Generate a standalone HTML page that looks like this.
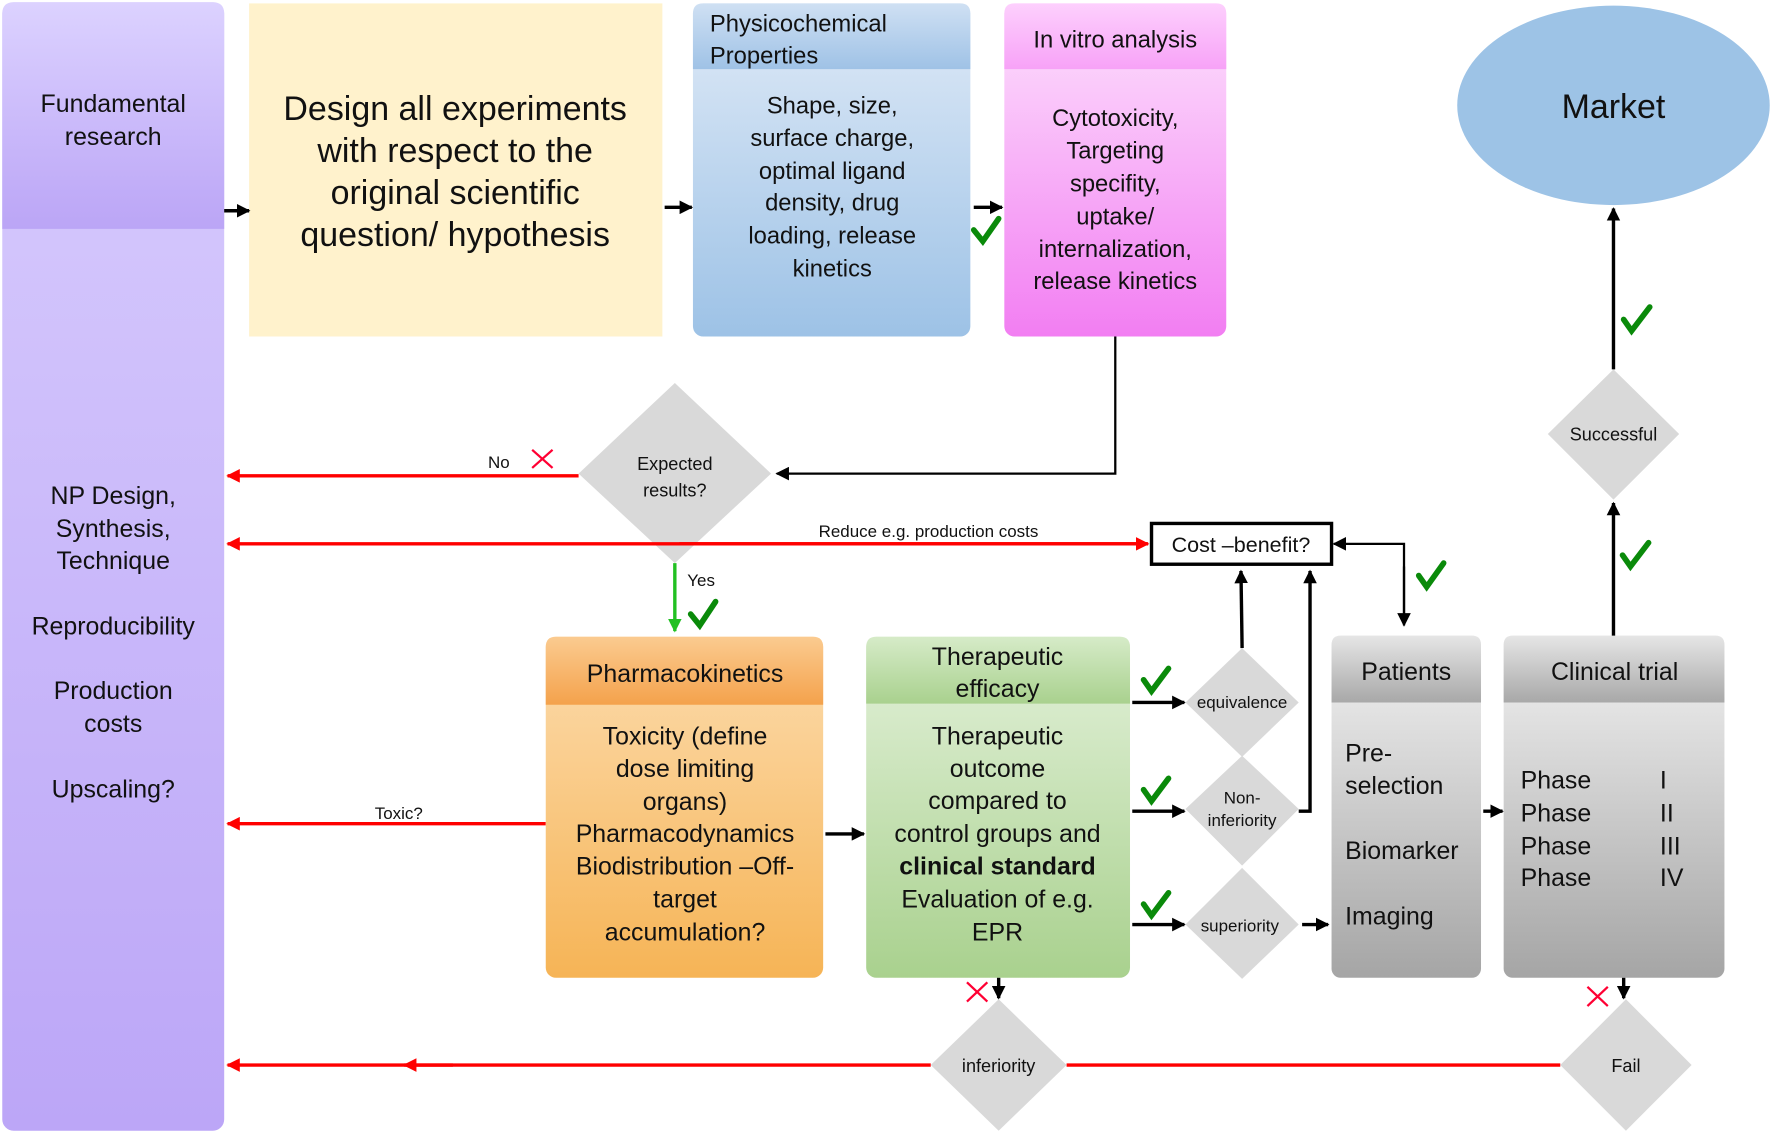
<!DOCTYPE html>
<html><head><meta charset="utf-8"><style>
html,body{margin:0;padding:0;background:#fff}
svg{display:block}
text{font-family:"Liberation Sans",Arial,sans-serif;fill:#111}
</style></head><body>
<svg width="1772" height="1133" viewBox="0 0 1565 1000" preserveAspectRatio="none" xmlns="http://www.w3.org/2000/svg">
<defs>
<linearGradient id="pHead" x1="0" y1="0" x2="0" y2="1"><stop offset="0" stop-color="#dcd2ff"/><stop offset="1" stop-color="#bba5f6"/></linearGradient>
<linearGradient id="pBody" x1="0" y1="0" x2="0" y2="1"><stop offset="0" stop-color="#d8ccfd"/><stop offset="1" stop-color="#bca6f7"/></linearGradient>
<linearGradient id="bHead" x1="0" y1="0" x2="0" y2="1"><stop offset="0" stop-color="#cfe0f3"/><stop offset="1" stop-color="#9fc2e6"/></linearGradient>
<linearGradient id="bBody" x1="0" y1="0" x2="0" y2="1"><stop offset="0" stop-color="#dfeaf7"/><stop offset="1" stop-color="#9dc2e6"/></linearGradient>
<linearGradient id="mHead" x1="0" y1="0" x2="0" y2="1"><stop offset="0" stop-color="#fdd0fd"/><stop offset="1" stop-color="#f7a2f7"/></linearGradient>
<linearGradient id="mBody" x1="0" y1="0" x2="0" y2="1"><stop offset="0" stop-color="#fde2fd"/><stop offset="1" stop-color="#f27ef2"/></linearGradient>
<linearGradient id="oHead" x1="0" y1="0" x2="0" y2="1"><stop offset="0" stop-color="#fbcb90"/><stop offset="1" stop-color="#f4a24c"/></linearGradient>
<linearGradient id="oBody" x1="0" y1="0" x2="0" y2="1"><stop offset="0" stop-color="#fcdcae"/><stop offset="1" stop-color="#f6b456"/></linearGradient>
<linearGradient id="gHead" x1="0" y1="0" x2="0" y2="1"><stop offset="0" stop-color="#d6ebc8"/><stop offset="1" stop-color="#a9d18e"/></linearGradient>
<linearGradient id="gBody" x1="0" y1="0" x2="0" y2="1"><stop offset="0" stop-color="#e3f1da"/><stop offset="1" stop-color="#a9d18e"/></linearGradient>
<linearGradient id="kHead" x1="0" y1="0" x2="0" y2="1"><stop offset="0" stop-color="#e6e6e6"/><stop offset="1" stop-color="#a8a8a8"/></linearGradient>
<linearGradient id="kBody" x1="0" y1="0" x2="0" y2="1"><stop offset="0" stop-color="#f3f3f3"/><stop offset="1" stop-color="#a5a5a5"/></linearGradient>
<marker id="ab" viewBox="0 0 10 10" refX="9" refY="5" markerWidth="4" markerHeight="4" orient="auto"><path d="M0,0 L10,5 L0,10 z" fill="#000"/></marker>
<marker id="abs" viewBox="0 0 10 10" refX="9" refY="5" markerWidth="6" markerHeight="6" orient="auto"><path d="M0,0 L10,5 L0,10 z" fill="#000"/></marker>
<marker id="ar" viewBox="0 0 10 10" refX="9" refY="5" markerWidth="4" markerHeight="4" orient="auto"><path d="M0,0 L10,5 L0,10 z" fill="#f00"/></marker>
<marker id="ag" viewBox="0 0 10 10" refX="9" refY="5" markerWidth="4" markerHeight="4" orient="auto"><path d="M0,0 L10,5 L0,10 z" fill="#22c022"/></marker>
</defs>

<!-- left column -->
<rect x="2" y="2" width="196" height="996" rx="10" fill="url(#pBody)"/>
<path d="M2,202 V12 Q2,2 12,2 H188 Q198,2 198,12 V202 Z" fill="url(#pHead)"/>
<g font-size="22" text-anchor="middle">
<text x="100" y="99">Fundamental</text><text x="100" y="128">research</text>
<text x="100" y="445">NP Design,</text><text x="100" y="474">Synthesis,</text><text x="100" y="502">Technique</text>
<text x="100" y="560">Reproducibility</text>
<text x="100" y="617">Production</text><text x="100" y="646">costs</text>
<text x="100" y="704">Upscaling?</text>
</g>

<!-- yellow -->
<rect x="220" y="3" width="365" height="294" fill="#fff2cc"/>
<g font-size="30" text-anchor="middle">
<text x="402" y="106">Design all experiments</text><text x="402" y="143">with respect to the</text>
<text x="402" y="180">original scientific</text><text x="402" y="217">question/ hypothesis</text>
</g>

<!-- blue -->
<rect x="612" y="3" width="245" height="294" rx="9" fill="url(#bBody)"/>
<path d="M612,61 V12 Q612,3 621,3 H848 Q857,3 857,12 V61 Z" fill="url(#bHead)"/>
<g font-size="21">
<text x="627" y="28">Physicochemical</text><text x="627" y="56">Properties</text>
</g>
<g font-size="21" text-anchor="middle">
<text x="735" y="100">Shape, size,</text><text x="735" y="129">surface charge,</text><text x="735" y="158">optimal ligand</text>
<text x="735" y="186">density, drug</text><text x="735" y="215">loading, release</text><text x="735" y="244">kinetics</text>
</g>

<!-- pink -->
<rect x="887" y="3" width="196" height="294" rx="9" fill="url(#mBody)"/>
<path d="M887,61 V12 Q887,3 896,3 H1074 Q1083,3 1083,12 V61 Z" fill="url(#mHead)"/>
<g font-size="21" text-anchor="middle">
<text x="985" y="42">In vitro analysis</text>
<text x="985" y="111">Cytotoxicity,</text><text x="985" y="140">Targeting</text><text x="985" y="169">specifity,</text>
<text x="985" y="198">uptake/</text><text x="985" y="227">internalization,</text><text x="985" y="255">release kinetics</text>
</g>

<!-- top arrows -->
<g stroke="#000" stroke-width="3" fill="none">
<line x1="198" y1="186" x2="220" y2="186" marker-end="url(#ab)"/>
<line x1="587" y1="183" x2="611" y2="183" marker-end="url(#ab)"/>
<line x1="860" y1="183" x2="885" y2="183" marker-end="url(#ab)"/>
<polyline points="985,297 985,418 686,418" stroke-width="2" marker-end="url(#abs)"/>
</g>

<!-- market -->
<ellipse cx="1425" cy="93" rx="138" ry="88" fill="#9dc3e6"/>
<text x="1425" y="104" font-size="30" text-anchor="middle">Market</text>

<!-- diamonds -->
<g fill="#d9d9d9">
<polygon points="596,338 681,418 596,497 511,418"/>
<polygon points="1425,326 1483,383 1425,441 1367,383"/>
<polygon points="1097,572 1147,620 1097,668 1047,620"/>
<polygon points="1097,667 1147,714 1097,764 1047,714"/>
<polygon points="1097,766 1147,816 1097,864 1047,816"/>
<polygon points="882,882 942,940 882,998 822,940"/>
<polygon points="1436,882 1494,940 1436,998 1378,940"/>
</g>
<g font-size="16" text-anchor="middle">
<text x="596" y="415">Expected</text><text x="596" y="438">results?</text>
<text x="1425" y="389">Successful</text>
<text x="1097" y="625" font-size="15">equivalence</text>
<text x="1097" y="709" font-size="15">Non-</text><text x="1097" y="729" font-size="15">inferiority</text>
<text x="1095" y="822" font-size="15">superiority</text>
<text x="882" y="946">inferiority</text>
<text x="1436" y="946">Fail</text>
</g>

<!-- red lines -->
<g stroke="#f00" stroke-width="3" fill="none">
<line x1="511" y1="420" x2="201" y2="420" marker-end="url(#ar)"/>
<line x1="1013" y1="480" x2="201" y2="480" marker-end="url(#ar)"/>
<line x1="600" y1="480" x2="1014" y2="480" marker-end="url(#ar)"/>
<line x1="482" y1="727" x2="201" y2="727" marker-end="url(#ar)"/>
<line x1="1378" y1="940" x2="942" y2="940"/>
<line x1="822" y1="940" x2="201" y2="940" marker-end="url(#ar)"/>
<line x1="400" y1="940" x2="357" y2="940" marker-end="url(#ar)"/>
</g>
<g font-size="15">
<text x="431" y="413">No</text>
<text x="723" y="474">Reduce e.g. production costs</text>
<text x="331" y="723">Toxic?</text>
<text x="607" y="517">Yes</text>
</g>
<g stroke="#f03" stroke-width="2">
<path d="M470,397 L488,413 M488,397 L470,413"/>
<path d="M854,867 L872,884 M872,867 L854,884"/>
<path d="M1402,871 L1420,888 M1420,871 L1402,888"/>
</g>

<!-- green arrow -->
<line x1="596" y1="497" x2="596" y2="557" stroke="#22c022" stroke-width="3" marker-end="url(#ag)"/>

<!-- cost benefit -->
<rect x="1017" y="462" width="159" height="36" fill="#fff" stroke="#000" stroke-width="3"/>
<text x="1096" y="487" font-size="19" text-anchor="middle">Cost –benefit?</text>

<!-- orange -->
<rect x="482" y="562" width="245" height="301" rx="9" fill="url(#oBody)"/>
<path d="M482,622 V571 Q482,562 491,562 H718 Q727,562 727,571 V622 Z" fill="url(#oHead)"/>
<g font-size="22" text-anchor="middle">
<text x="605" y="602">Pharmacokinetics</text>
<text x="605" y="657">Toxicity (define</text><text x="605" y="686">dose limiting</text><text x="605" y="715">organs)</text>
<text x="605" y="743">Pharmacodynamics</text><text x="605" y="772">Biodistribution –Off-</text>
<text x="605" y="801">target</text><text x="605" y="830">accumulation?</text>
</g>

<!-- green box -->
<rect x="765" y="562" width="233" height="301" rx="9" fill="url(#gBody)"/>
<path d="M765,621 V571 Q765,562 774,562 H989 Q998,562 998,571 V621 Z" fill="url(#gHead)"/>
<g font-size="22" text-anchor="middle">
<text x="881" y="587">Therapeutic</text><text x="881" y="615">efficacy</text>
<text x="881" y="657">Therapeutic</text><text x="881" y="686">outcome</text><text x="881" y="714">compared to</text>
<text x="881" y="743">control groups and</text><text x="881" y="772" font-weight="bold">clinical standard</text>
<text x="881" y="801">Evaluation  of e.g.</text><text x="881" y="830">EPR</text>
</g>

<!-- patients -->
<rect x="1176" y="561" width="132" height="302" rx="8" fill="url(#kBody)"/>
<path d="M1176,620 V569 Q1176,561 1184,561 H1300 Q1308,561 1308,569 V620 Z" fill="url(#kHead)"/>
<g font-size="22">
<text x="1242" y="600" text-anchor="middle">Patients</text>
<text x="1188" y="672">Pre-</text><text x="1188" y="701">selection</text>
<text x="1188" y="758">Biomarker</text><text x="1188" y="816">Imaging</text>
</g>

<!-- clinical trial -->
<rect x="1328" y="561" width="195" height="302" rx="8" fill="url(#kBody)"/>
<path d="M1328,620 V569 Q1328,561 1336,561 H1515 Q1523,561 1523,569 V620 Z" fill="url(#kHead)"/>
<g font-size="22">
<text x="1426" y="600" text-anchor="middle">Clinical trial</text>
<text x="1343" y="696">Phase</text><text x="1343" y="725">Phase</text><text x="1343" y="754">Phase</text><text x="1343" y="782">Phase</text>
<text x="1466" y="696">I</text><text x="1466" y="725">II</text><text x="1466" y="754">III</text><text x="1466" y="782">IV</text>
</g>

<!-- black connectors lower -->
<g stroke="#000" stroke-width="3" fill="none">
<line x1="729" y1="736" x2="763" y2="736" marker-end="url(#ab)"/>
<line x1="1000" y1="620" x2="1046" y2="620" marker-end="url(#ab)"/>
<line x1="1000" y1="716" x2="1046" y2="716" marker-end="url(#ab)"/>
<line x1="1000" y1="816" x2="1046" y2="816" marker-end="url(#ab)"/>
<line x1="1097" y1="572" x2="1096" y2="504" marker-end="url(#ab)"/>
<polyline points="1147,716 1157,716 1157,504" marker-end="url(#ab)"/>
<line x1="1150" y1="816" x2="1173" y2="816" marker-end="url(#ab)"/>
<line x1="1310" y1="716" x2="1327" y2="716" marker-end="url(#ab)"/>
<line x1="1425" y1="561" x2="1425" y2="444" marker-end="url(#ab)"/>
<line x1="1425" y1="326" x2="1425" y2="184" marker-end="url(#ab)"/>
<line x1="882" y1="863" x2="882" y2="881" marker-end="url(#ab)"/>
<line x1="1434" y1="863" x2="1434" y2="881" marker-end="url(#ab)"/>
</g>
<g stroke="#000" stroke-width="2" fill="none">
<polyline points="1240,551 1240,480 1178,480" marker-end="url(#abs)"/>
<line x1="1240" y1="500" x2="1240" y2="552" marker-end="url(#abs)"/>
</g>

<!-- checks -->
<g stroke="#0a8a0a" stroke-width="5" fill="none" stroke-linecap="round">
<path d="M860,203 L868,213 L882,193"/>
<path d="M610,542 L618,552 L632,531"/>
<path d="M1010,600 L1017,610 L1032,590"/>
<path d="M1010,697 L1017,707 L1032,687"/>
<path d="M1010,798 L1017,808 L1032,788"/>
<path d="M1253,508 L1260,518 L1275,497"/>
<path d="M1434,282 L1441,292 L1457,271"/>
<path d="M1433,490 L1440,500 L1456,479"/>
</g>
</svg>
</body></html>
